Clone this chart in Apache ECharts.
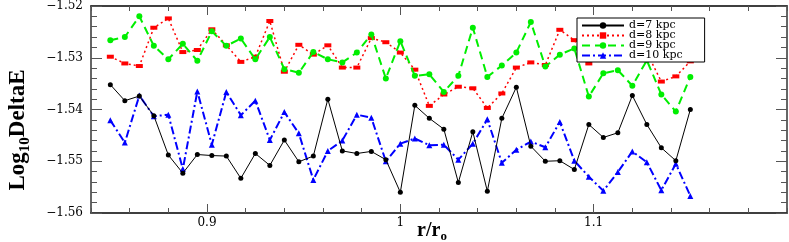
<!DOCTYPE html>
<html><head><meta charset="utf-8">
<script src="https://cdn.jsdelivr.net/npm/echarts@6/dist/echarts.min.js"></script>
<style>html,body{margin:0;padding:0;background:#fff}#c{width:789px;height:242px}</style>
</head><body><div id="c"></div>
<script>
const r = [0.85,0.8575,0.865,0.8725,0.88,0.8875,0.895,0.9025,0.91,0.9175,0.925,0.9325,0.94,0.9475,0.955,0.9625,0.97,0.9775,0.985,0.9925,1.0,1.0075,1.015,1.0225,1.03,1.0375,1.045,1.0525,1.06,1.0675,1.075,1.0825,1.09,1.0975,1.105,1.1125,1.12,1.1275,1.135,1.1425,1.15];
const d7 = [-1.5352,-1.5383,-1.5374,-1.5412,-1.5488,-1.5523,-1.5487,-1.5489,-1.5490,-1.5533,-1.5485,-1.5508,-1.5459,-1.5501,-1.5490,-1.5380,-1.5480,-1.5485,-1.5481,-1.5497,-1.5560,-1.5392,-1.5417,-1.5438,-1.5541,-1.5443,-1.5558,-1.5417,-1.5357,-1.5471,-1.5500,-1.5499,-1.5516,-1.5429,-1.5454,-1.5445,-1.5373,-1.5429,-1.5474,-1.5499,-1.5400];
const d8 = [-1.5298,-1.5311,-1.5316,-1.5242,-1.5224,-1.5289,-1.5285,-1.5245,-1.5276,-1.5308,-1.5298,-1.5229,-1.5327,-1.5275,-1.5294,-1.5276,-1.5319,-1.5319,-1.5262,-1.5270,-1.5290,-1.5323,-1.5393,-1.5371,-1.5356,-1.5359,-1.5397,-1.5369,-1.5319,-1.5309,-1.5314,-1.5246,-1.5266,-1.5311,-1.5280,-1.5265,-1.5270,-1.5290,-1.5346,-1.5336,-1.5307];
const d9 = [-1.5266,-1.5260,-1.5220,-1.5277,-1.5303,-1.5273,-1.5306,-1.5249,-1.5277,-1.5263,-1.5303,-1.5260,-1.5322,-1.5329,-1.5289,-1.5303,-1.5309,-1.5290,-1.5255,-1.5340,-1.5268,-1.5335,-1.5332,-1.5366,-1.5335,-1.5242,-1.5337,-1.5315,-1.5290,-1.5231,-1.5317,-1.5294,-1.5282,-1.5375,-1.5330,-1.5324,-1.5354,-1.5305,-1.5371,-1.5404,-1.5337];
const d10 = [-1.5421,-1.5464,-1.5373,-1.5413,-1.5410,-1.5515,-1.5365,-1.5468,-1.5366,-1.5411,-1.5383,-1.5459,-1.5405,-1.5446,-1.5536,-1.5480,-1.5460,-1.5410,-1.5416,-1.5500,-1.5466,-1.5456,-1.5469,-1.5468,-1.5497,-1.5466,-1.5419,-1.5503,-1.5478,-1.5462,-1.5473,-1.5424,-1.5499,-1.5530,-1.5557,-1.5521,-1.5481,-1.5502,-1.5556,-1.5505,-1.5567];
const seriesNames = ['d=7 kpc','d=8 kpc','d=9 kpc','d=10 kpc'];
const xMajorTicks = [0.9, 1, 1.1];

const chart = echarts.init(document.getElementById('c'), null, {renderer:'canvas'});
const pair = arr => r.map((x,i)=>[x, arr[i]]);
const axisLine = {show:true, lineStyle:{color:'#333', width:1.5}};
const tickCol = {color:'#555', width:1};
function xAx(pos, major){
  const a = {type:'value', position:pos, min:0.84, max:1.2, interval:0.02,
    axisLine: axisLine, splitLine:{show:false},
    axisTick:{show:true, inside:true, length: major?9:5, lineStyle:tickCol},
    axisLabel:{show:false}};
  if (major){
    a.axisTick.customValues = xMajorTicks;
    if (pos==='bottom'){
      a.axisLabel = {show:true, customValues:xMajorTicks, margin:4, color:'#000',
        fontFamily:'DejaVu Serif', fontSize:12, formatter:v=>String(+v.toFixed(2))};
    }
  }
  return a;
}
function yAx(pos, labels){
  return {type:'value', position:pos, min:-1.56, max:-1.52, interval:0.01,
    axisLine: axisLine, splitLine:{show:false},
    axisTick:{show:true, inside:true, length:11, lineStyle:tickCol},
    minorTick:{show:true, splitNumber:5, length:6, lineStyle:tickCol},
    axisLabel: labels ? {show:true, margin:8, color:'#000', fontFamily:'DejaVu Serif', fontSize:12,
      formatter:v=>v.toFixed(2).replace('-','\u2212')} : {show:false}};
}
chart.setOption({
  animation:false,
  backgroundColor:'#fff',
  grid:{left:91, right:2, top:3, bottom:29},
  xAxis:[xAx('bottom',false), xAx('bottom',true), xAx('top',false), xAx('top',true)],
  yAxis:[yAx('left',true), yAx('right',false)],
  legend:{
    orient:'vertical', left:577, top:18, z:20,
    itemWidth:42, itemHeight:8, itemGap:-1,
    padding:[2,22,1,4],
    borderColor:'#000', borderWidth:1, backgroundColor:'#fff',
    textStyle:{fontFamily:'DejaVu Serif', fontSize:11, color:'#000'},
    data: seriesNames
  },
  graphic:[
    {type:'text', x:18, y:130, rotation:Math.PI/2, z:10,
     style:{text:'{a|Log}{b|10}{a|DeltaE}', align:'center', verticalAlign:'middle',
       rich:{a:{fontFamily:'Liberation Serif', fontWeight:'bold', fontSize:23, lineHeight:30, verticalAlign:'middle', fill:'#000'},
             b:{fontFamily:'Liberation Serif', fontWeight:'bold', fontSize:15, lineHeight:30, verticalAlign:'bottom', fill:'#000'}}}},
    {type:'text', x:432, y:231, z:10,
     style:{text:'{a|r/r}{b|o}', align:'center', verticalAlign:'middle',
       rich:{a:{fontFamily:'Liberation Serif', fontWeight:'bold', fontSize:20, lineHeight:24, verticalAlign:'middle', fill:'#000'},
             b:{fontFamily:'Liberation Serif', fontWeight:'bold', fontSize:13, lineHeight:24, verticalAlign:'bottom', fill:'#000'}}}}
  ],
  series:[
    {name:seriesNames[0], type:'line', data:pair(d7), symbol:'circle', symbolSize:5,
     lineStyle:{color:'#000', width:1}, itemStyle:{color:'#000'}, z:4},
    {name:seriesNames[1], type:'line', data:pair(d8), symbol:'rect', symbolSize:[7,4],
     lineStyle:{color:'#ff0000', width:1.5, type:[2,3]}, itemStyle:{color:'#ff0000'}, z:2},
    {name:seriesNames[2], type:'line', data:pair(d9), symbol:'circle', symbolSize:6,
     lineStyle:{color:'#00ee00', width:2, type:[8,5]}, itemStyle:{color:'#00ee00'}, z:3},
    {name:seriesNames[3], type:'line', data:pair(d10), symbol:'triangle', symbolSize:6,
     lineStyle:{color:'#0000ff', width:2, type:[8,3,2,3]}, itemStyle:{color:'#0000ff'}, z:3}
  ]
});
</script></body></html>
